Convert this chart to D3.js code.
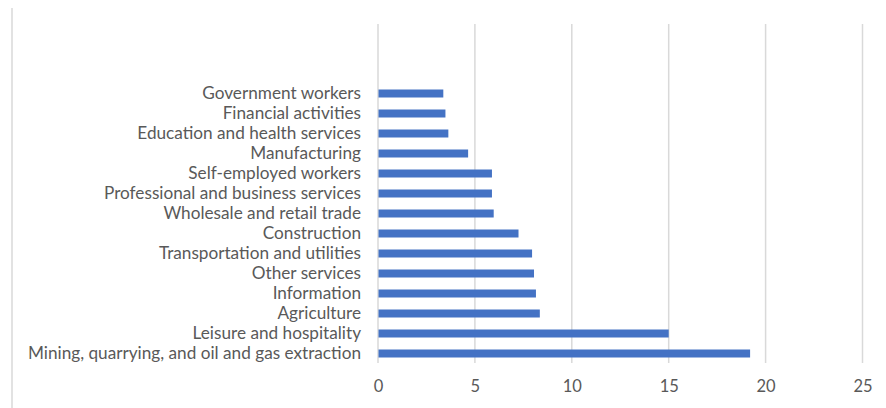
<!DOCTYPE html>
<html>
<head>
<meta charset="utf-8">
<script src="https://cdn.jsdelivr.net/npm/d3@7"></script>
<style>
  html, body { margin: 0; padding: 0; background: #fff; }
  svg { display: block; }
</style>
</head>
<body>
<svg id="chart" width="886" height="408"></svg>
<script>
// Industries, listed bottom to top as they appear on the axis
const categories = [
  "Mining, quarrying, and oil and gas extraction",
  "Leisure and hospitality",
  "Agriculture ",
  "Information",
  "Other services",
  "Transportation and utilities",
  "Construction",
  "Wholesale and retail trade",
  "Professional and business services",
  "Self-employed workers",
  "Manufacturing",
  "Education and health services",
  "Financial activities",
  "Government workers"
];
const values = [19.2, 15.0, 8.35, 8.15, 8.05, 7.95, 7.25, 5.97, 5.88, 5.88, 4.65, 3.63, 3.48, 3.37];
const xTicks = [0, 5, 10, 15, 20, 25];

const svg = d3.select("#chart");
const textColor = "#595959";
const gridColor = "#d9d9d9";
const barColor = "#4472C4";
const font = "Lato, 'Open Sans', sans-serif";

const plot = { left: 378, right: 862.5, top: 24, bottom: 363 };

const x = d3.scaleLinear().domain([0, 25]).range([plot.left, plot.right]);

// Categories fill the lower part of the plot; the top is left blank
const y = d3.scaleBand()
  .domain(categories)
  .range([plot.bottom + 0.5, 83.5])
  .paddingInner(0.6)
  .paddingOuter(0.3);

// Chart frame edge on the left
svg.append("line")
  .attr("x1", 12).attr("x2", 12)
  .attr("y1", 8).attr("y2", 408)
  .attr("stroke", gridColor).attr("stroke-width", 1.5);

// Vertical gridlines
svg.append("g")
  .selectAll("line")
  .data(xTicks)
  .join("line")
  .attr("x1", d => x(d)).attr("x2", d => x(d))
  .attr("y1", plot.top).attr("y2", plot.bottom)
  .attr("stroke", gridColor).attr("stroke-width", 1.5);

// Bars
svg.append("g")
  .selectAll("rect")
  .data(categories)
  .join("rect")
  .attr("x", x(0) + 0.5)
  .attr("y", d => y(d))
  .attr("width", (d, i) => x(values[i]) - x(0) - 0.5)
  .attr("height", y.bandwidth())
  .attr("fill", barColor);

// Category labels
const catAxis = d3.axisLeft(y).tickSize(0).tickPadding(17);
const gy = svg.append("g")
  .attr("transform", `translate(${plot.left},0)`)
  .call(catAxis);
gy.select(".domain").remove();
gy.selectAll("text")
  .attr("fill", textColor)
  .style("font-family", font)
  .style("font-size", "17.2px");

// Value axis labels
const valAxis = d3.axisBottom(x).tickValues(xTicks).tickSize(0).tickPadding(17);
const gx = svg.append("g")
  .attr("transform", `translate(0,${plot.bottom})`)
  .call(valAxis);
gx.select(".domain").remove();
gx.selectAll("text")
  .attr("fill", textColor)
  .style("font-family", font)
  .style("font-size", "16.5px");
</script>
</body>
</html>
